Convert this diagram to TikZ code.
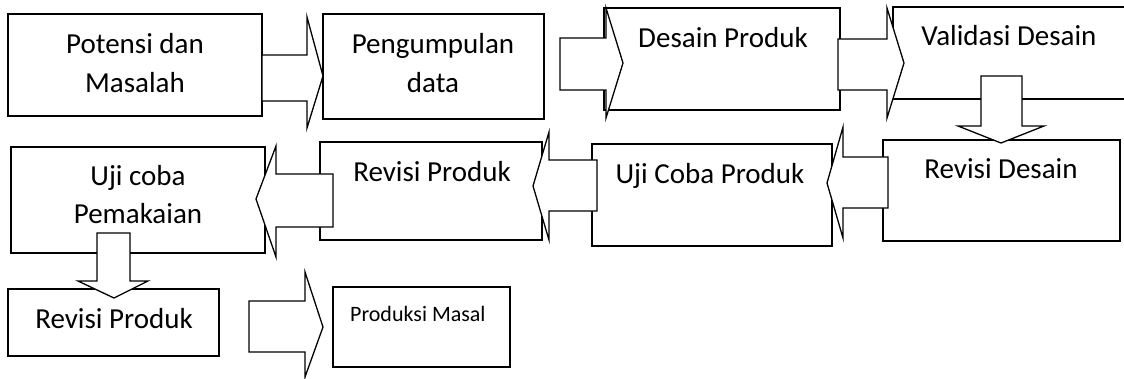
\documentclass[tikz,border=0pt]{standalone}
\usepackage{fontspec}
\setmainfont{Carlito}
\begin{document}
\begin{tikzpicture}[x=1pt,y=-1pt,
  box/.style={draw, line width=1.5pt, inner sep=0pt, outer sep=0pt},
  blk/.style={draw, line width=1.3pt, fill=white},
  txt/.style={anchor=base, inner sep=0pt, font=\fontsize{29}{35}\selectfont},
  stxt/.style={anchor=base west, inner sep=0pt, font=\fontsize{22}{26}\selectfont}]
\useasboundingbox (0,0) rectangle (1124,378);
% boxes
\node[box, minimum width=254pt, minimum height=102pt] (b1) at (135,65) {};
\node[box, minimum width=221pt, minimum height=105pt] (b2) at (433.5,66.5) {};
\node[box, minimum width=236pt, minimum height=102pt] (b3) at (722,59) {};
\node[box, minimum width=242pt, minimum height=92pt] (b4) at (1014,53) {};
\node[box, minimum width=237pt, minimum height=101pt] (b5) at (1001.5,190.5) {};
\node[box, minimum width=240pt, minimum height=102pt] (b6) at (712,195) {};
\node[box, minimum width=222pt, minimum height=98pt] (b7) at (431,191) {};
\node[box, minimum width=254pt, minimum height=106pt] (b8) at (138,200) {};
\node[box, minimum width=211pt, minimum height=67pt] (b9) at (113.5,322.5) {};
\node[box, minimum width=177pt, minimum height=80pt] (b10) at (421.5,327) {};
% block arrows
\draw[blk] (262,55) -- (307,55) -- (307,17) -- (323,76) -- (307,128) -- (307,101) -- (262,101) -- cycle;
\draw[blk] (560,38) -- (606,38) -- (606,8) -- (623,63) -- (606,118) -- (606,90) -- (560,90) -- cycle;
\draw[blk] (838,39) -- (887,39) -- (887,8) -- (904,63) -- (887,118) -- (887,90) -- (838,90) -- cycle;
\draw[blk] (981,76) -- (1022,76) -- (1022,126) -- (1044,126) -- (1001,143) -- (958,126) -- (981,126) -- cycle;
\draw[blk] (888,157) -- (843,157) -- (843,127) -- (827,183) -- (843,238) -- (843,208) -- (888,208) -- cycle;
\draw[blk] (597,160) -- (549,160) -- (549,132) -- (533,186) -- (549,240) -- (549,211) -- (597,211) -- cycle;
\draw[blk] (333,174) -- (276,174) -- (276,146) -- (256,199) -- (276,257) -- (276,227) -- (333,227) -- cycle;
\draw[blk] (97,233) -- (130,233) -- (130,281) -- (148,281) -- (114,298) -- (78,281) -- (97,281) -- cycle;
\draw[blk] (249,301) -- (305,301) -- (305,272) -- (323,327) -- (305,377) -- (305,352) -- (249,352) -- cycle;
% texts
\node[txt] (t1a) at (135,53) {Potensi dan};
\node[txt] (t1b) at (135,92) {Masalah};
\node[txt] (t2a) at (433,53) {Pengumpulan};
\node[txt] (t2b) at (433,92) {data};
\node[txt] (t3) at (723,47) {Desain Produk};
\node[txt] (t4) at (1009,45) {Validasi Desain};
\node[txt] (t5) at (1001,178) {Revisi Desain};
\node[txt] (t6) at (710,183) {Uji Coba Produk};
\node[txt] (t7) at (432,181) {Revisi Produk};
\node[txt] (t8a) at (138,185) {Uji coba};
\node[txt] (t8b) at (138,223) {Pemakaian};
\node[txt] (t9) at (114,328) {Revisi Produk};
\node[stxt] (t10) at (350,321) {Produksi Masal};
\end{tikzpicture}
\end{document}
